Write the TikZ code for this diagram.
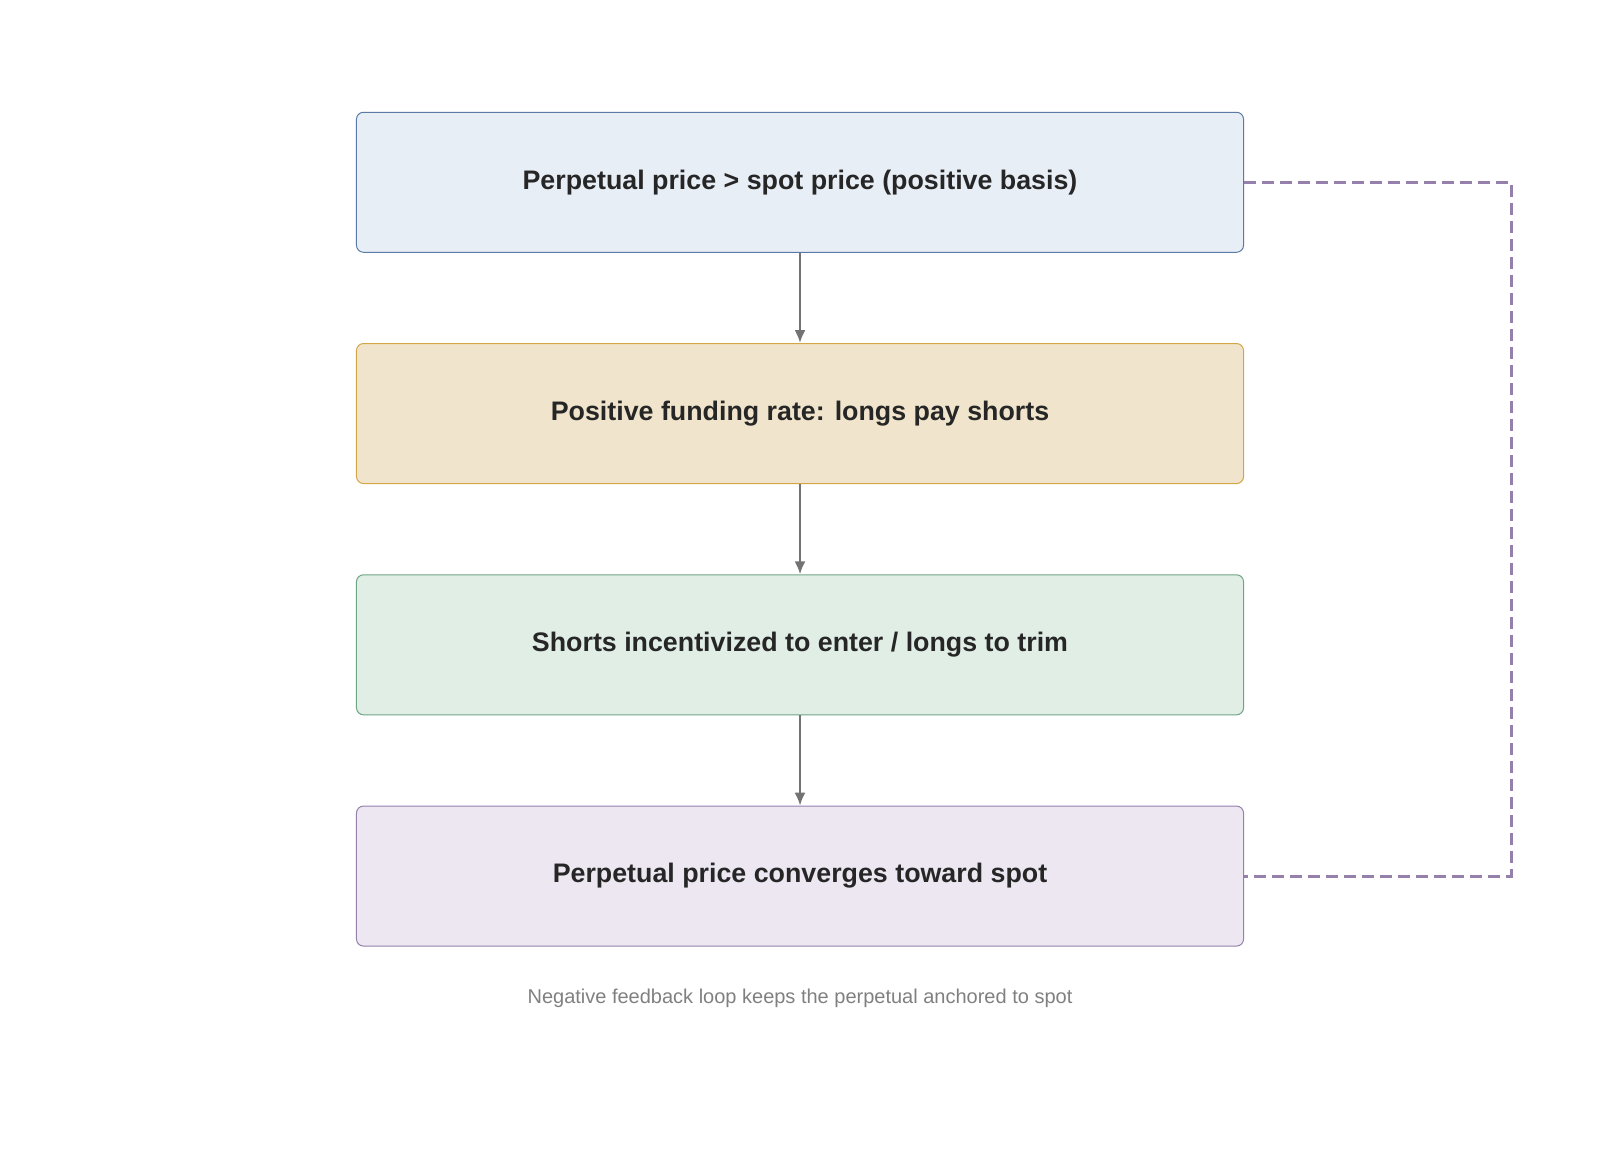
\documentclass[tikz,border=0pt]{standalone}
\usepackage{fontspec}
\setmainfont{Liberation Sans}
\usetikzlibrary{arrows.meta}
\begin{document}
\begin{tikzpicture}[x=1.021pt,y=-1.021pt,
 box/.style={draw,rounded corners=7pt,minimum width=887pt,minimum height=140pt,font=\fontsize{26.8}{32}\selectfont\bfseries,text=black!85,line width=1pt},
 arr/.style={draw=gray!90!black,line width=2.2pt,-{Latex[length=13pt,width=11pt]}},
]
\definecolor{f1}{HTML}{E8EEF6}\definecolor{d1}{HTML}{5B7BA6}
\definecolor{f2}{HTML}{F0E5CC}\definecolor{d2}{HTML}{D4A64A}
\definecolor{f3}{HTML}{E1EEE6}\definecolor{d3}{HTML}{6FA584}
\definecolor{f4}{HTML}{EDE7F1}\definecolor{d4}{HTML}{9580AC}
\useasboundingbox (0,0) rectangle (1567,1132);
\node[box,fill=f1,draw=d1] (a) at (783.5,178.5) {Perpetual price > spot price (positive basis)};
\node[box,fill=f2,draw=d2] (b) at (783.5,405) {Positive funding rate: longs pay shorts};
\node[box,fill=f3,draw=d3] (c) at (783.5,631.5) {Shorts incentivized to enter / longs to trim};
\node[box,fill=f4,draw=d4] (d) at (783.5,858) {Perpetual price converges toward spot};
\draw[arr] (a) -- (b);
\draw[arr] (b) -- (c);
\draw[arr] (c) -- (d);
\coordinate (t) at (1480,178.5);
\coordinate (u) at (1480,858);
\draw[draw=d4,line width=3pt,dash pattern=on 12pt off 6pt] (a.east) -- (t) -- (u) -- (d.east);
\node[font=\fontsize{20}{24}\selectfont,text=gray] (cap) at (783.5,978) {Negative feedback loop keeps the perpetual anchored to spot};
\end{tikzpicture}
\end{document}
